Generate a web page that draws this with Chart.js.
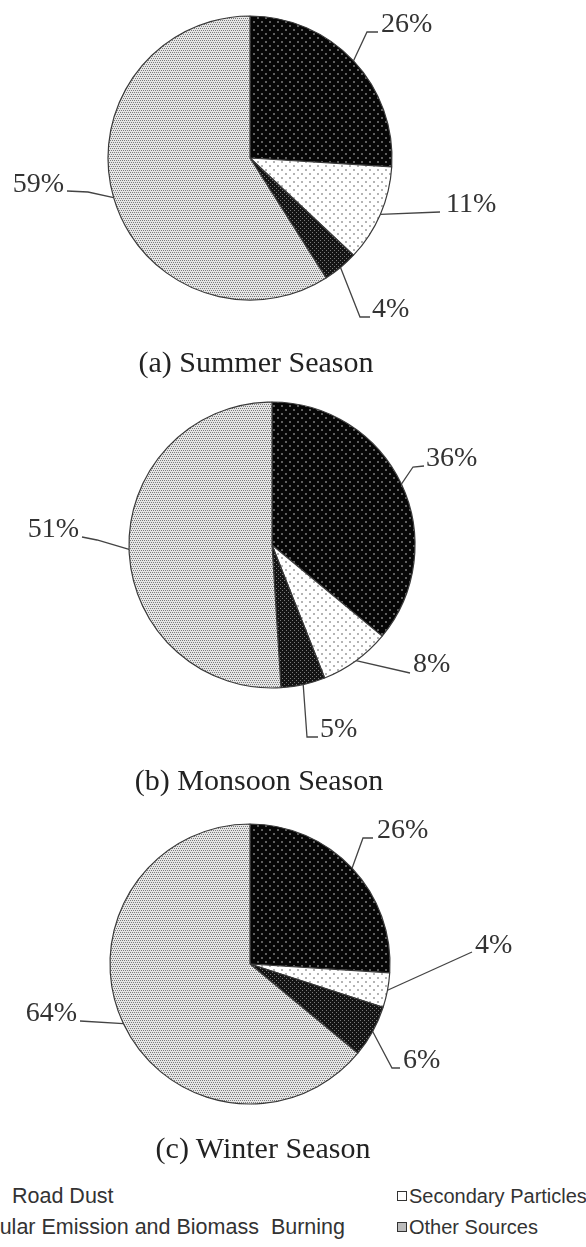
<!DOCTYPE html>
<html lang="en">
<head>
<meta charset="UTF-8">
<title>Source contributions by season</title>
<script src="https://cdn.jsdelivr.net/npm/chart.js"></script>
<style>
  body { margin:0; width:586px; height:1247px; background:#fff; position:relative; overflow:hidden; }
  canvas.pie { position:absolute; left:0; }
  .caption { position:absolute; width:400px; text-align:center; font-family:"Liberation Serif", serif; font-size:30px; line-height:30px; color:#222; white-space:nowrap; }
  .legend { position:absolute; font-family:"Liberation Sans", Arial, sans-serif; font-size:20px; line-height:20px; color:#333; white-space:pre; }
  .legend.wide { font-size:21.5px; }
  .mk { display:inline-block; width:8px; height:8px; border:1px solid #333; margin-right:2px; vertical-align:2px; }
</style>
</head>
<body>
  <canvas id="summer" class="pie" width="586" height="380" style="top:0"></canvas>
  <canvas id="monsoon" class="pie" width="586" height="420" style="top:380px"></canvas>
  <canvas id="winter" class="pie" width="586" height="375" style="top:800px"></canvas>

  <div class="caption" id="cap0" style="left:56px; top:347px"></div>
  <div class="caption" id="cap1" style="left:59px; top:765px"></div>
  <div class="caption" id="cap2" style="left:63px; top:1133px"></div>

  <!-- legend (left edge is cut off in the original figure) -->
  <div class="legend wide" style="left:-30px; top:1186px"><span class="mk" style="background:#000"></span></div>
  <div class="legend wide" style="left:12px; top:1186px"><span id="lg0"></span></div>
  <div class="legend wide" style="right:241px; top:1217px"><span class="mk" style="background:#222"></span><span id="lg2"></span></div>
  <div class="legend" style="left:397px; top:1186px"><span class="mk" style="background:#fff"></span><span id="lg1"></span></div>
  <div class="legend" style="left:397px; top:1217px"><span class="mk" style="background:#bbb"></span><span id="lg3"></span></div>

<script>
  // data (percent share per source)
  const sources = ['Road Dust', 'Secondary Particles', 'Vehicular Emission and Biomass  Burning', 'Other Sources'];
  const seasons = ['(a) Summer Season', '(b) Monsoon Season', '(c) Winter Season'];
  const summerShare = [26, 11, 4, 59];
  const monsoonShare = [36, 8, 5, 51];
  const winterShare = [26, 4, 6, 64];

  seasons.forEach((s, i) => document.getElementById('cap' + i).textContent = s);
  sources.forEach((s, i) => document.getElementById('lg' + i).textContent = s);

  // dotted fills like the original print patterns
  function makePattern(size, bg, fg, dots, dot) {
    const c = document.createElement('canvas');
    c.width = c.height = size;
    const g = c.getContext('2d');
    g.fillStyle = bg;
    g.fillRect(0, 0, size, size);
    g.fillStyle = fg;
    dots.forEach(([x, y]) => g.fillRect(x, y, dot, dot));
    return g.createPattern(c, 'repeat');
  }
  const fills = [
    makePattern(8, '#060606', '#5e5e5e', [[1, 1], [5, 5]], 2),
    makePattern(8, '#ffffff', '#b4b4b4', [[1, 1], [5, 5]], 2),
    makePattern(4, '#141414', '#7a7a7a', [[0, 0], [2, 2]], 1),
    makePattern(4, '#e6e6e6', '#7c7c7c', [[0, 0], [2, 0], [1, 2], [3, 2]], 1)
  ];

  // leader lines + percentage labels, path points in page coordinates
  function leaders(top, layout) {
    return {
      id: 'leaders',
      afterDatasetsDraw(chart) {
        const ctx = chart.ctx;
        const meta = chart.getDatasetMeta(0);
        const vals = chart.data.datasets[0].data;
        ctx.save();
        ctx.strokeStyle = '#444';
        ctx.lineWidth = 1.3;
        ctx.fillStyle = '#333';
        ctx.font = '28px "Liberation Serif"';
        ctx.textBaseline = 'alphabetic';
        meta.data.forEach((arc, i) => {
          const p = arc.getProps(['x', 'y', 'startAngle', 'endAngle', 'outerRadius']);
          const mid = (p.startAngle + p.endAngle) / 2;
          const lay = layout[i];
          ctx.beginPath();
          ctx.moveTo(p.x + Math.cos(mid) * p.outerRadius, p.y + Math.sin(mid) * p.outerRadius);
          lay.path.forEach(([x, y]) => ctx.lineTo(x, y - top));
          ctx.stroke();
          ctx.textAlign = lay.align || 'left';
          ctx.fillText(vals[i] + '%', lay.text[0], lay.text[1] - top);
        });
        ctx.restore();
      }
    };
  }

  function pie(id, values, radius, padding, top, layout) {
    new Chart(document.getElementById(id), {
      type: 'pie',
      data: {
        labels: sources,
        datasets: [{
          data: values,
          backgroundColor: fills,
          borderColor: '#3a3a3a',
          borderWidth: 1.2,
          radius: radius
        }]
      },
      options: {
        responsive: false,
        animation: false,
        events: [],
        devicePixelRatio: 1,
        layout: { padding: padding },
        plugins: { legend: { display: false }, tooltip: { enabled: false } }
      },
      plugins: [leaders(top, layout)]
    });
  }

  pie('summer', summerShare, 142, { left: 100, right: 186, top: 8, bottom: 72 }, 0, [
    { path: [[367, 32], [378, 32]], text: [381, 32] },
    { path: [[440, 212]], text: [446, 212] },
    { path: [[360, 317], [370, 317]], text: [372, 317] },
    { path: [[88, 192], [67, 191]], text: [64, 192], align: 'right' }
  ]);

  pie('monsoon', monsoonShare, 143, { left: 122, right: 164, top: 15, bottom: 105 }, 380, [
    { path: [[413, 467], [424, 466]], text: [426, 466] },
    { path: [[410, 673]], text: [413, 672] },
    { path: [[307, 737], [318, 737]], text: [320, 737] },
    { path: [[97, 540], [82, 537]], text: [79, 537], align: 'right' }
  ]);

  pie('winter', winterShare, 140, { left: 100, right: 186, top: 14, bottom: 61 }, 800, [
    { path: [[363, 838], [373, 838]], text: [377, 838] },
    { path: [[472, 952]], text: [475, 953] },
    { path: [[392, 1068], [400, 1068]], text: [403, 1068] },
    { path: [[80, 1021]], text: [77, 1021], align: 'right' }
  ]);
</script>
</body>
</html>
